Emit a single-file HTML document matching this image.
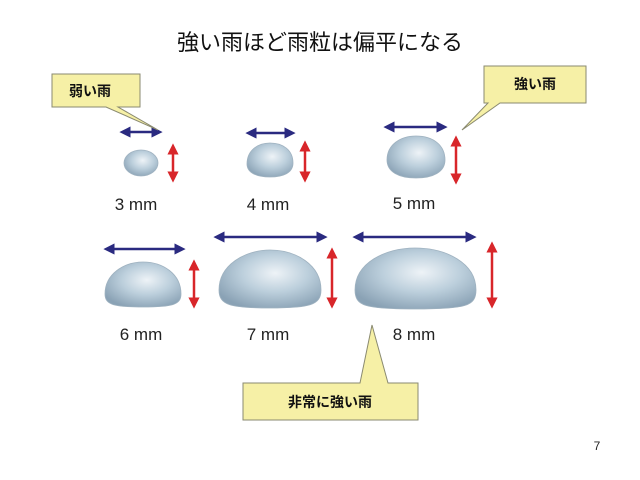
<!DOCTYPE html>
<html><head><meta charset="utf-8"><style>
html,body{margin:0;padding:0;background:#fff;}
svg{display:block}
text{font-family:"Liberation Sans","Noto Sans CJK JP",sans-serif;}
</style></head><body>
<svg width="640" height="480" viewBox="0 0 640 480" xmlns="http://www.w3.org/2000/svg">
<defs>
<radialGradient id="g" cx="0.55" cy="0.4" r="0.65">
<stop offset="0" stop-color="#eef3f7"/><stop offset="0.5" stop-color="#bccfdc"/><stop offset="1" stop-color="#8aa2b5"/>
</radialGradient>
<marker id="bh" viewBox="0 0 10 10" refX="5" refY="5" markerWidth="4.5" markerHeight="4.5" orient="auto-start-reverse"><path d="M0,0L10,5L0,10z" fill="#2a2a80"/></marker>
<marker id="rh" viewBox="0 0 10 10" refX="5" refY="5" markerWidth="4.5" markerHeight="4.5" orient="auto-start-reverse"><path d="M0,0L10,5L0,10z" fill="#d8262a"/></marker>
</defs>
<rect width="640" height="480" fill="#fff"/>
<text x="320" y="50" font-size="22" text-anchor="middle" fill="#111">強い雨ほど雨粒は偏平になる</text>

<g stroke="#2a2a80" stroke-width="2.5" fill="none">
<line x1="125" y1="132" x2="157" y2="132" marker-start="url(#bh)" marker-end="url(#bh)"/>
<line x1="251" y1="133" x2="290" y2="133" marker-start="url(#bh)" marker-end="url(#bh)"/>
<line x1="389" y1="127" x2="442" y2="127" marker-start="url(#bh)" marker-end="url(#bh)"/>
<line x1="109" y1="249" x2="180" y2="249" marker-start="url(#bh)" marker-end="url(#bh)"/>
<line x1="219" y1="237" x2="322" y2="237" marker-start="url(#bh)" marker-end="url(#bh)"/>
<line x1="358" y1="237" x2="471" y2="237" marker-start="url(#bh)" marker-end="url(#bh)"/>
</g>
<g stroke="#d8262a" stroke-width="2.5" fill="none">
<line x1="173" y1="149" x2="173" y2="177" marker-start="url(#rh)" marker-end="url(#rh)"/>
<line x1="305" y1="146" x2="305" y2="177" marker-start="url(#rh)" marker-end="url(#rh)"/>
<line x1="456" y1="141" x2="456" y2="179" marker-start="url(#rh)" marker-end="url(#rh)"/>
<line x1="194" y1="265" x2="194" y2="303" marker-start="url(#rh)" marker-end="url(#rh)"/>
<line x1="332" y1="253" x2="332" y2="303" marker-start="url(#rh)" marker-end="url(#rh)"/>
<line x1="492" y1="247" x2="492" y2="303" marker-start="url(#rh)" marker-end="url(#rh)"/>
</g>

<g fill="url(#g)" stroke="#9fb2c0" stroke-width="0.8">
<ellipse cx="141" cy="163" rx="17" ry="13"/>
<path d="M247,164 C247,150 258,143 270,143 C283,143 293,150 293,163 C293,173 283,177 270,177 C257,177 247,173 247,164Z"/>
<path d="M387,160 C387,145 400,136 416,136 C433,136 445,145 445,160 C445,172 433,178 416,178 C399,178 387,172 387,160Z"/>
<path d="M105,294 C105,274 124,262 143,262 C163,262 181,274 181,294 C181,305 172,307 143,307 C114,307 105,305 105,294Z"/>
<path d="M219,290 C219,265 245,250 270,250 C296,250 321,265 321,290 C321,305 310,308 270,308 C230,308 219,305 219,290Z"/>
<path d="M355,290 C355,263 385,248 415,248 C446,248 476,263 476,290 C476,306 466,309 415,309 C365,309 355,306 355,290Z"/>
</g>

<g font-size="17" fill="#222" text-anchor="middle">
<text x="136" y="210">3 mm</text>
<text x="268" y="210">4 mm</text>
<text x="414" y="209">5 mm</text>
<text x="141" y="340">6 mm</text>
<text x="268" y="340">7 mm</text>
<text x="414" y="340">8 mm</text>
</g>

<g fill="#f6f0a6" stroke="#8a8a70" stroke-width="1">
<path d="M52,74 H140 V107 H118 L158,130 L106,107 H52 Z"/>
<path d="M484,66 H586 V103 H500 L462,130 L488,103 H484 Z"/>
<path d="M243,383 H360 L372,325 L388,383 H418 V420 H243 Z"/>
</g>
<g font-size="14" font-weight="bold" fill="#111" text-anchor="middle">
<text x="90" y="96">弱い雨</text>
<text x="535" y="89">強い雨</text>
<text x="330" y="407">非常に強い雨</text>
</g>
<text x="597" y="450" font-size="12" fill="#222" text-anchor="middle">7</text>
</svg>
</body></html>
